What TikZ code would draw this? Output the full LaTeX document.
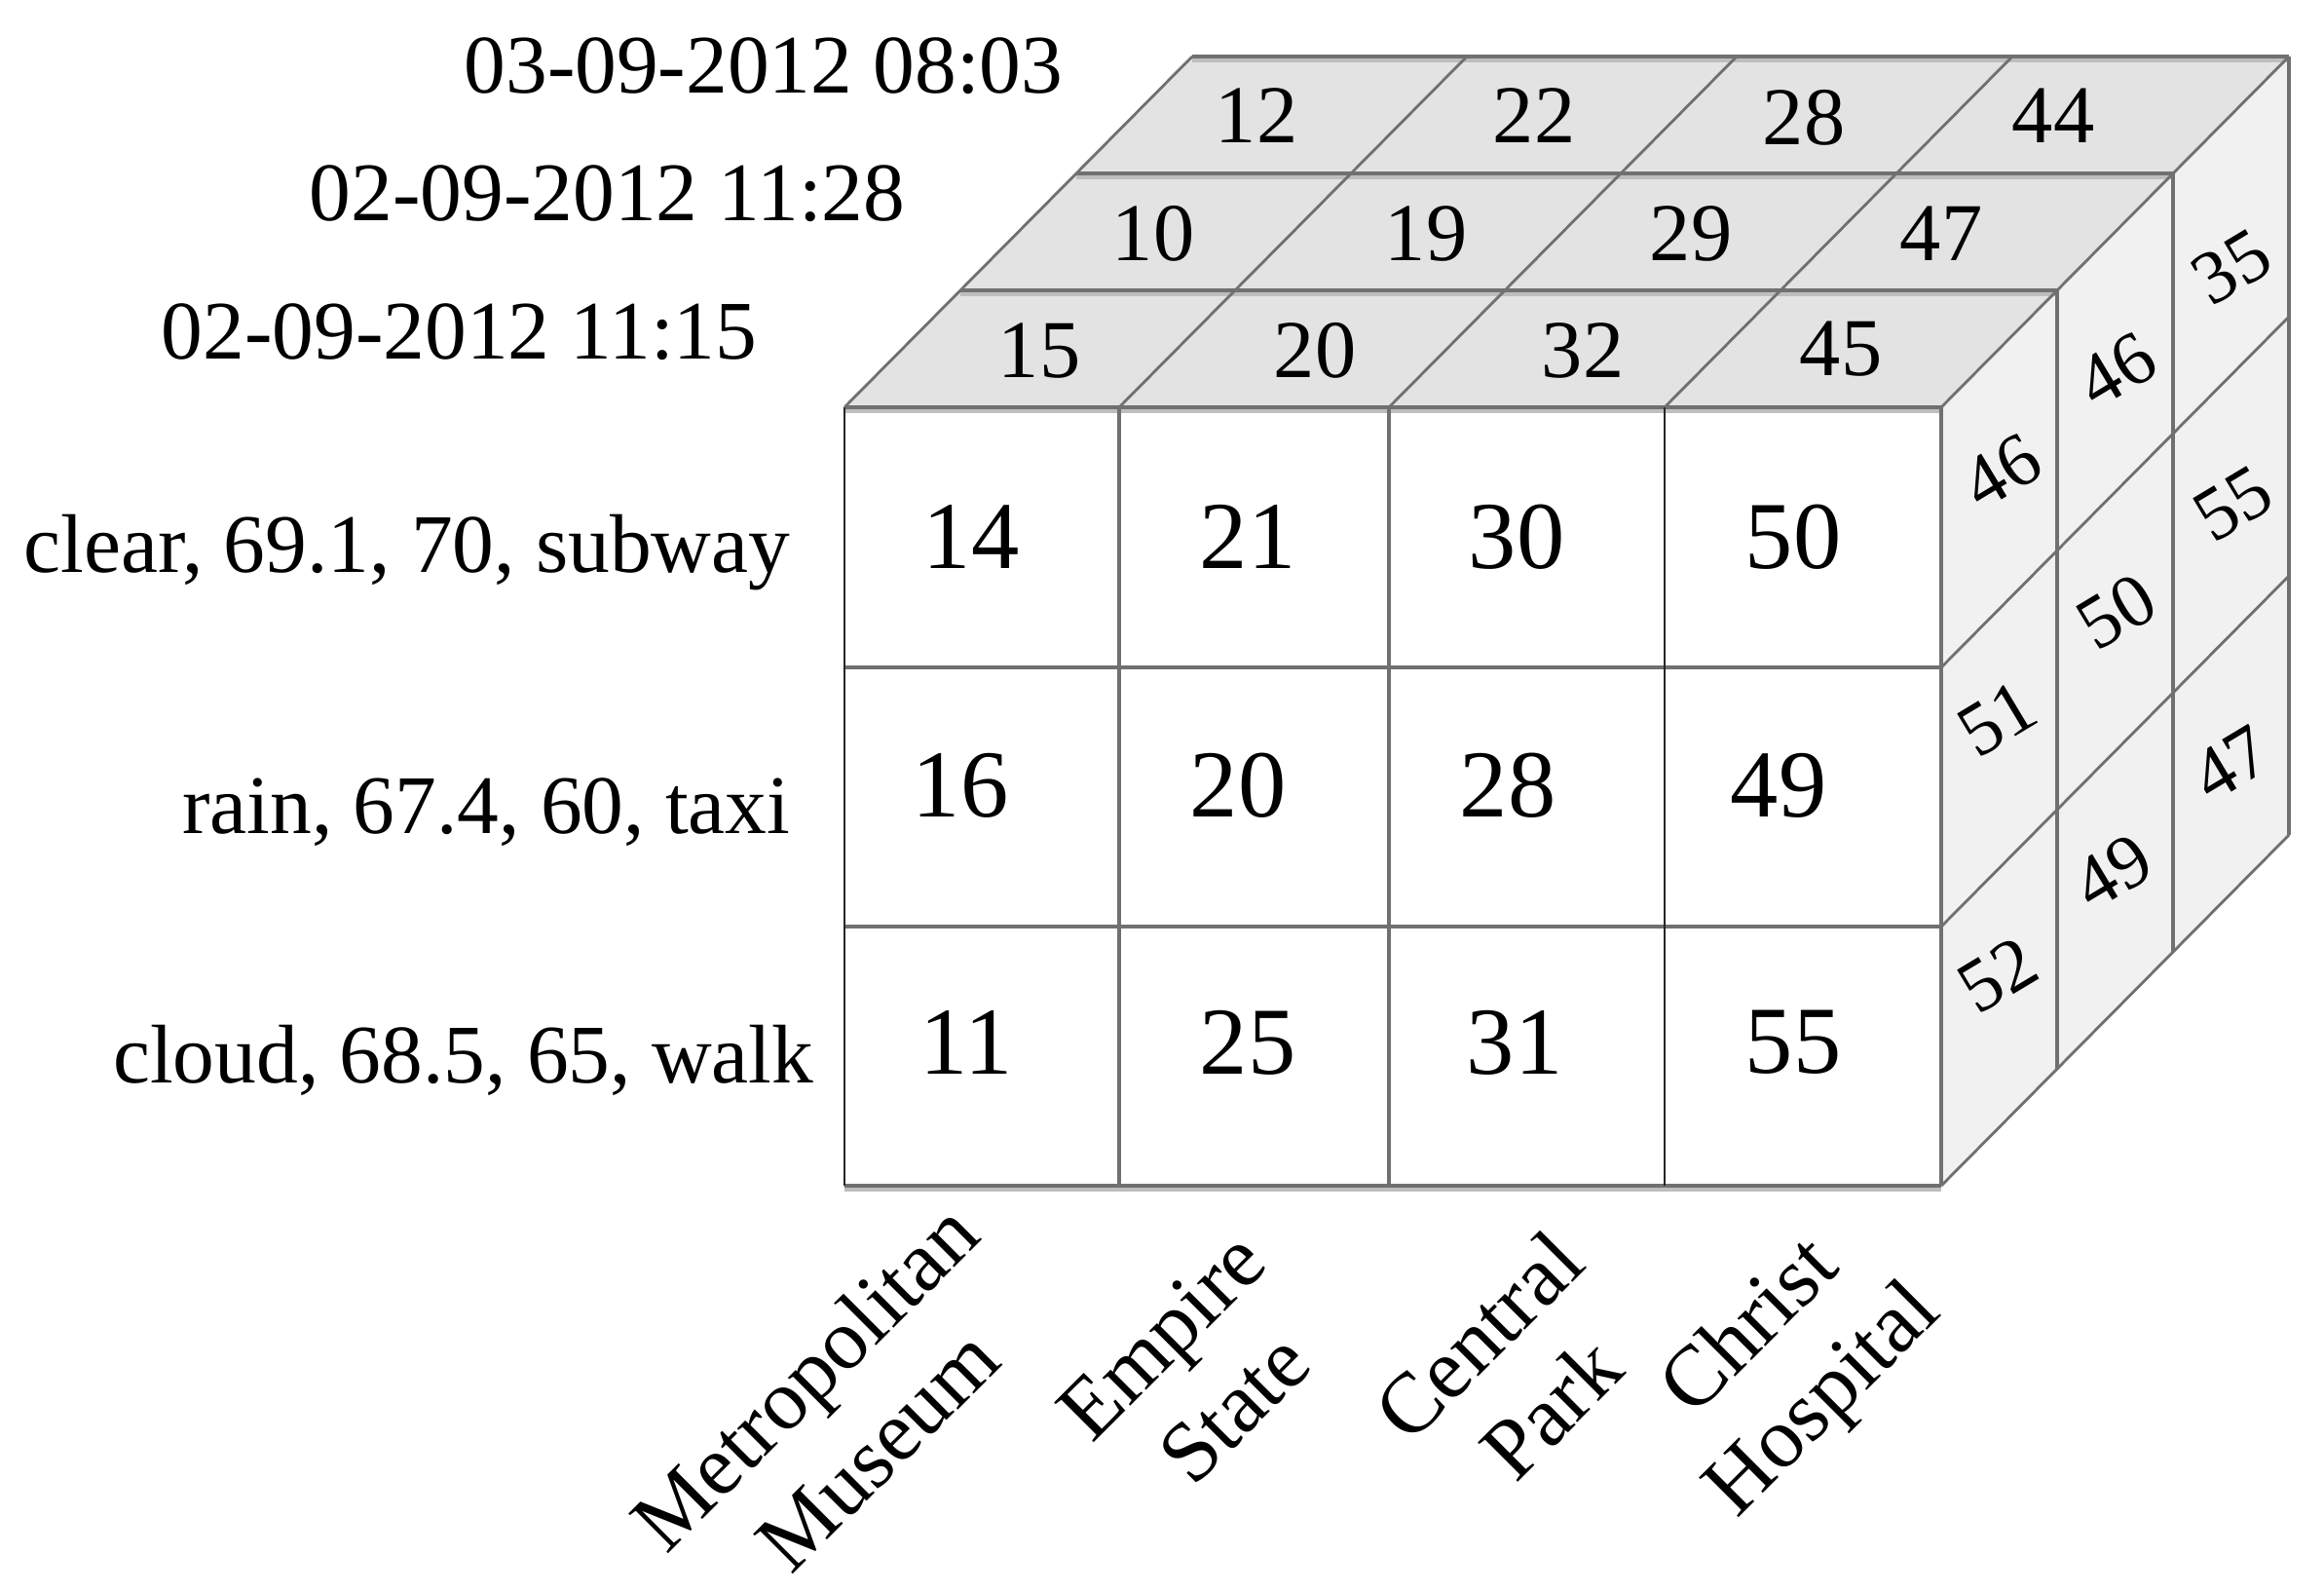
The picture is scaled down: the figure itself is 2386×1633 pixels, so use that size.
\documentclass[tikz,border=0pt]{standalone}
\usepackage{fontspec}
\setmainfont{Liberation Serif}
\begin{document}
\begin{tikzpicture}[x=0.01cm,y=-0.01cm,
  facefront/.style={fill=white},
  facetop/.style={fill={rgb,255:red,227;green,227;blue,227}},
  faceside/.style={fill={rgb,255:red,241;green,241;blue,241}},
  gridline/.style={draw={rgb,255:red,112;green,112;blue,112}, line width=1pt},
  shadeline/.style={draw={rgb,255:red,190;green,190;blue,190}, line width=0.9pt},
  darkline/.style={draw=black!85, line width=0.8pt},
  fnum/.style={font=\fontsize{28}{32}\selectfont, inner sep=0pt},
  tnum/.style={font=\fontsize{24}{28}\selectfont, inner sep=0pt},
  snum/.style={font=\fontsize{22}{26}\selectfont, inner sep=0pt, rotate=31},
  lab/.style={font=\fontsize{24.3}{28}\selectfont, inner sep=0pt, anchor=base east},
  blab/.style={font=\fontsize{25}{30}\selectfont, inner sep=0pt, rotate=45, align=center},
]
\path[use as bounding box, fill=white] (0,0) rectangle (2386,1633);

% faces
\path[facetop] (867,418) -- (1993,418) -- (2350,58) -- (1224,58) -- cycle;
\path[faceside] (1993,418) -- (2350,58) -- (2350,857) -- (1993,1217) -- cycle;
\path[facefront] (867,418) rectangle (1993,1217);

% shadow bands under horizontal lines of the top face and front face
\foreach \k in {0,1,2,3} {
  \draw[shadeline] ({867+119*\k},{418-120*\k+4}) -- ({1993+119*\k},{418-120*\k+4});
}
\draw[shadeline] (867,1221) -- (1993,1221);

% front face grid
\foreach \y in {418,685,951,1217} { \draw[gridline] (867,\y) -- (1993,\y); }
\foreach \x in {1149,1426,1993} { \draw[gridline] (\x,418) -- (\x,1217); }
\draw[darkline] (867,418) -- (867,1217);
\draw[darkline] (1709,418) -- (1709,1217);

% top face grid
\foreach \k in {1,2,3} {
  \draw[gridline] ({867+119*\k},{418-120*\k}) -- ({1993+119*\k},{418-120*\k});
}
\foreach \x in {867,1149,1426,1709,1993} {
  \draw[gridline, line width=0.8pt] (\x,418) -- ({\x+357},58);
}

% right face grid
\foreach \k in {1,2,3} {
  \draw[gridline] ({1993+119*\k},{418-120*\k}) -- ({1993+119*\k},{1217-120*\k});
}
\foreach \y in {685,951,1217} {
  \draw[gridline, line width=0.8pt] (1993,\y) -- (2350,{\y-360});
}

% front numbers
\node[fnum] (f11) at (997,551) {14};
\node[fnum] (f12) at (1281,551) {21};
\node[fnum] (f13) at (1557,551) {30};
\node[fnum] (f14) at (1841,551) {50};
\node[fnum] (f21) at (986,806) {16};
\node[fnum] (f22) at (1271,806) {20};
\node[fnum] (f23) at (1548,806) {28};
\node[fnum] (f24) at (1826,806) {49};
\node[fnum] (f31) at (992,1070) {11};
\node[fnum] (f32) at (1281,1070) {25};
\node[fnum] (f33) at (1555,1070) {31};
\node[fnum] (f34) at (1841,1070) {55};

% top numbers
\node[tnum] (t11) at (1067,360) {15};
\node[tnum] (t12) at (1350,360) {20};
\node[tnum] (t13) at (1625,360) {32};
\node[tnum] (t14) at (1890,358) {45};
\node[tnum] (t21) at (1184,240) {10};
\node[tnum] (t22) at (1464,240) {19};
\node[tnum] (t23) at (1736,240) {29};
\node[tnum] (t24) at (1993,240) {47};
\node[tnum] (t31) at (1290,119) {12};
\node[tnum] (t32) at (1575,119) {22};
\node[tnum] (t33) at (1852,121) {28};
\node[tnum] (t34) at (2108,119) {44};

% right face numbers
\node[snum] (s11) at (2055,484) {46};
\node[snum] (s21) at (2051,738) {51};
\node[snum] (s31) at (2051,1001) {52};
\node[snum] (s12) at (2173,380) {46};
\node[snum] (s22) at (2173,628) {50};
\node[snum] (s32) at (2169,895) {49};
\node[snum] (s13) at (2291,274) {35};
\node[snum] (s23) at (2293,517) {55};
\node[snum] (s33) at (2290,784) {47};

% time labels
\node[lab] (d3) at (1092,95) {03-09-2012 08:03};
\node[lab] (d2) at (930,226) {02-09-2012 11:28};
\node[lab] (d1) at (778,368) {02-09-2012 11:15};

% row labels
\node[lab] (r1) at (812,587) {clear, 69.1, 70, subway};
\node[lab] (r2) at (812,855) {rain, 67.4, 60, taxi};
\node[lab] (r3) at (836,1111) {cloud, 68.5, 65, walk};

% column labels
\node[blab] (c1) at (863,1450) {Metropolitan\\Museum};
\node[blab] (c2) at (1230,1408) {Empire\\State};
\node[blab] (c3) at (1555,1408) {Central\\Park};
\node[blab] (c4) at (1837,1402) {Christ\\Hospital};
\end{tikzpicture}
\end{document}
